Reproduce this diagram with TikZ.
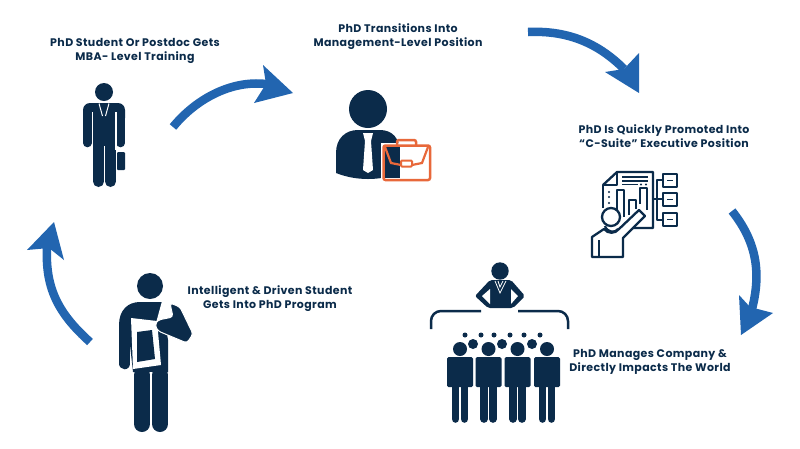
\documentclass[tikz,border=0pt]{standalone}
\usepackage{fontspec}
\setmainfont[LetterSpace=3.5]{Poppins}
\definecolor{navy}{HTML}{0B2B4A}
\definecolor{arrowblue}{HTML}{2265B0}
\definecolor{caseorange}{HTML}{E8683A}
\tikzset{
  caption/.style={font=\fontsize{11}{14.2}\selectfont\bfseries,text=navy,align=center,inner sep=0pt},
  curvearrow/.style={draw=arrowblue,line width=8.5pt},
  headfill/.style={fill=arrowblue},
  limb/.style={draw=navy,line cap=round},
  outline/.style={draw=navy,line width=2.3pt,line join=round},
  cutline/.style={draw=white,line width=1.2pt}
}
\begin{document}
\begin{tikzpicture}[x=1pt,y=-1pt]
  \useasboundingbox[fill=white] (0,0) rectangle (800,448);

  \node[caption] (mba) at (135,51) {PhD Student Or Postdoc Gets\\MBA- Level Training};
  \node[caption] (manager) at (398,36.5) {PhD Transitions Into\\Management-Level Position};
  \node[caption] (csuite) at (664,136) {PhD Is Quickly Promoted Into\\“C-Suite” Executive Position};
  \node[caption] (impact) at (650,362) {PhD Manages Company \&\\Directly Impacts The World};
  \node[caption] (program) at (270,298.5) {Intelligent \& Driven Student\\Gets Into PhD Program};

  % arrows
  \coordinate (a1s) at (173,127);
  \coordinate (a1e) at (266,84);
  \draw[curvearrow] (a1s) .. controls (195,100) and (230,80) .. (a1e);
  \fill[headfill] (293,93) -- (263,65) -- (266,84) -- (254,103) -- cycle;
  \coordinate (a2s) at (528,32);
  \coordinate (a2e) at (624,69);
  \draw[curvearrow] (a2s) .. controls (570,30) and (600,45) .. (a2e);
  \fill[headfill] (639,93) -- (639,53) -- (624,69) -- (605,72) -- cycle;
  \coordinate (a3s) at (732,211);
  \coordinate (a3e) at (752,309);
  \draw[curvearrow] (a3s) .. controls (755,240) and (762,270) .. (a3e);
  \fill[headfill] (741,335) -- (739,295) -- (750,307) -- (773,313) -- cycle;
  \coordinate (a4s) at (90,342);
  \coordinate (a4e) at (47,248);
  \draw[curvearrow] (a4s) .. controls (60,315) and (45,290) .. (a4e);
  \fill[headfill] (54,222) -- (27,250) -- (49,248) -- (64,260) -- cycle;

  % man with small case
  \fill[navy] (104,92) circle (9);
  \fill[navy,rounded corners=7pt] (83,125) -- (83,103) -- (125,103) -- (125,125) -- cycle;
  \draw[limb,line width=8.6pt] (87.3,115) -- (87.3,143);
  \draw[limb,line width=8.6pt] (120.7,115) -- (120.7,143);
  \fill[navy] (93,108) rectangle (116,165);
  \draw[limb,line width=11pt] (98.5,160) -- (98.5,181.5);
  \draw[limb,line width=11pt] (110.5,160) -- (110.5,181.5);
  \draw[cutline] (92.3,112) -- (92.3,150);
  \draw[cutline] (116,112) -- (116,150);
  \draw[cutline] (104.5,146) -- (104.5,190);
  \draw[white,line width=1pt] (99,103.5) -- (102.5,116);
  \draw[white,line width=1pt] (109,103.5) -- (105.5,116);
  \fill[navy,rounded corners=1pt] (117,152) rectangle (125,170);

  % manager with briefcase
  \fill[navy] (368,109) circle (19);
  \fill[navy] (336,173) -- (336,153) .. controls (336,138) and (346,130) .. (358,130)
    -- (380,130) .. controls (392,130) and (400,138) .. (400,153) -- (400,173)
    .. controls (380,181) and (356,181) .. (336,173) -- cycle;
  \fill[white] (363,133) -- (373,133) -- (371,141) -- (373,170) -- (368,173) -- (363,170) -- (365,141) -- cycle;
  \fill[white] (381,143) rectangle (432,182);
  \fill[navy] (384,146) rectangle (400,178);
  \draw[caseorange,line width=2.5pt,rounded corners=2pt] (383.5,145.5) rectangle (430,180);
  \draw[caseorange,line width=2.5pt,rounded corners=2pt] (397,145) -- (397,140) -- (416,140) -- (416,145);
  \draw[caseorange,line width=2.2pt] (385,147) -- (391,163) -- (401,165);
  \draw[caseorange,line width=2.2pt] (428,147) -- (422,163) -- (412,165);
  \draw[caseorange,line width=2pt,rounded corners=1pt] (401,160.5) rectangle (412,166.5);

  % chart and presenter
  \draw[outline] (603,185) -- (617,172) -- (653,172) -- (653,228) -- (630,228);
  \draw[outline] (603,208) -- (603,185) -- (617,185) -- (617,172);
  \draw[navy,line width=1.6pt] (622,177) -- (648,177) (622,181) -- (648,181) (622,184.5) -- (638,184.5);
  \fill[navy] (641,184.5) circle (1.1) (646,184.5) circle (1.1);
  \foreach \y in {192,197,203} {
    \fill[navy] (609,\y) circle (1.2);
  }
  \draw[outline] (617,217) -- (617,190) -- (624,190) -- (624,217);
  \draw[outline] (629,215) -- (629,200) -- (636,200) -- (636,209);
  \draw[outline] (640,204) -- (640,188) -- (647,188) -- (647,210);
  \draw[outline,fill=white] (611,217) circle (9);
  \draw[outline] (605,226) .. controls (607,233) and (616,233) .. (618,229);
  \draw[outline,fill=white] (592,257) -- (592,237) -- (604,229) .. controls (608,234) and (615,234) .. (619,229)
    -- (639,210) -- (645,216) -- (623,238) -- (623,257) -- cycle;
  \draw[outline] (599,257) -- (599,240);
  \draw[outline] (653,199) -- (657,199);
  \draw[outline] (663,180) -- (657,180) -- (657,220) -- (663,220);
  \draw[outline] (657,199) -- (663,199);
  \foreach \y in {174,193,213} {
    \draw[outline] (663,\y) rectangle (677,\y+13);
    \draw[navy,line width=1.5pt] (667,\y+6.5) -- (673,\y+6.5);
  }

  % leader and team
  \fill[navy] (500,271) circle (8.7);
  \fill[navy,rounded corners=2pt] (490,280) -- (511,280) -- (525,296) -- (513,308) -- (488,308) -- (475,296) -- cycle;
  \fill[white] (482,296) -- (490,289) -- (490,304) -- cycle;
  \fill[white] (518,296) -- (511,289) -- (511,304) -- cycle;
  \draw[white,line width=.8pt] (495,281) -- (500,293) -- (506,281) (498,281) -- (500,287) -- (503,281);
  \draw[navy,line width=2.5pt,rounded corners=10pt] (431,329) -- (431,311) -- (481,311);
  \draw[navy,line width=2.5pt,rounded corners=10pt] (518,311) -- (568,311) -- (568,329);
  \foreach \x in {473,502,532} {
    \fill[navy] (\x,344) circle (5);
  }
  \foreach \x in {465,481,494,510,524,540} {
    \fill[navy] (\x,335) circle (2.5);
  }
  \foreach \x in {460,488.5,517.5,547} {
    \fill[navy] (\x,349) circle (7);
    \fill[navy,rounded corners=1.5pt] (\x-13,357) rectangle (\x+13,387);
    \draw[limb,line width=7.6pt] (\x-4.5,385) -- (\x-4.5,419);
    \draw[limb,line width=7.6pt] (\x+4.5,385) -- (\x+4.5,419);
  }

  % student reading paper
  \fill[navy] (150,286) circle (13);
  \fill[navy] (119,325) .. controls (119,310) and (128,302) .. (140,302) -- (162,302) -- (168,340) -- (168,372) -- (133,372) -- (130,345) -- (119,345) -- cycle;
  \draw[limb,line width=11.5pt] (124.7,328) -- (124.7,363.5);
  \draw[limb,line width=16pt] (142,375) -- (142,424);
  \draw[limb,line width=16pt] (160,375) -- (160,424);
  \draw[white,line width=2pt] (151,372) -- (151,435);
  \fill[white] (131,318) -- (157,321) -- (161,365) -- (133,369) -- cycle;
  \fill[white] (162,301) -- (172,301) -- (172,322) -- (156,323) -- cycle;
  \fill[navy] (137,332) -- (152,330) -- (155,359) -- (137,362) -- cycle;
  \fill[navy,draw=white,line width=1pt,rounded corners=3pt] (170,303) -- (180,307) -- (193,334) -- (187,343)
    -- (158,331) -- (155,325) -- (158,320) -- (173,317) -- cycle;
\end{tikzpicture}
\end{document}
